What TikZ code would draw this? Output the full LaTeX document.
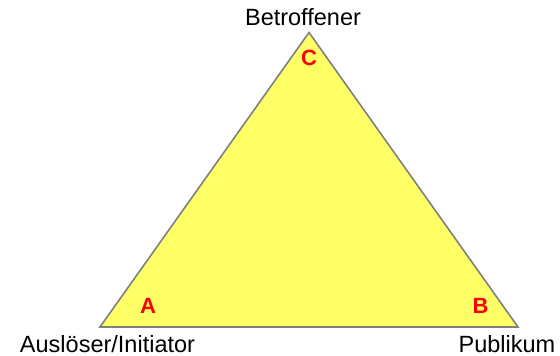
\documentclass[tikz,border=0pt]{standalone}
\usepackage{fontspec}
\setmainfont{Liberation Sans}
\definecolor{triyellow}{RGB}{255,255,102}
\definecolor{trigrey}{RGB}{128,128,128}
\definecolor{letterred}{RGB}{255,0,0}
\begin{document}
\begin{tikzpicture}[x=1pt,y=-1pt,
  lbl/.style={anchor=base,inner sep=0pt,font=\fontsize{23.5}{26}\selectfont},
  corner/.style={anchor=base,inner sep=0pt,text=letterred,font=\fontsize{22}{24}\selectfont\bfseries}]
\useasboundingbox (0,0) rectangle (560,356);
\coordinate (top) at (309,32.5);
\coordinate (left) at (100,327);
\coordinate (right) at (518,327);
\filldraw[fill=triyellow,draw=trigrey,line width=1.6pt,line join=miter] (left) -- (top) -- (right) -- cycle;
\node[corner] (c) at (309,65) {C};
\node[corner] (a) at (148,313) {A};
\node[corner] (b) at (480.5,313) {B};
\node[lbl] (betr) at (303,25) {Betroffener};
\node[lbl] (ausl) at (107.5,352) {Auslöser/Initiator};
\node[lbl] (publ) at (507,352) {Publikum};
\end{tikzpicture}
\end{document}
